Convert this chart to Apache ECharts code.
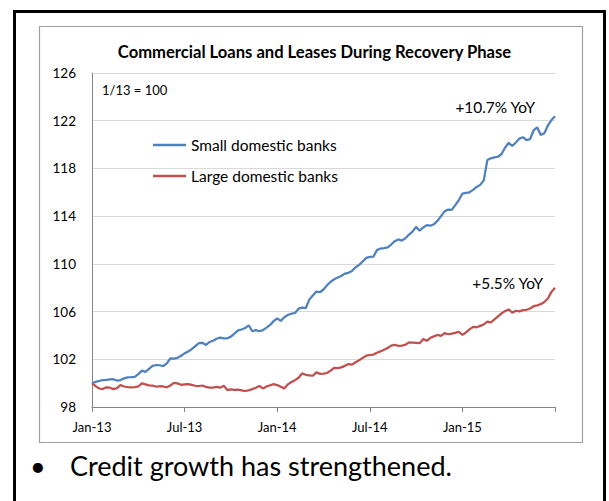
<!DOCTYPE html>
<html>
<head>
<meta charset="utf-8">
<script src="https://cdn.jsdelivr.net/npm/echarts@6/dist/echarts.min.js"></script>
<style>
  html, body { margin: 0; padding: 0; background: #fff; }
  #chart { width: 609px; height: 501px; }
</style>
</head>
<body>
<div id="chart"></div>
<script>
// Weekly index levels, first week of January 2013 = 100
const smallBanks = [
  100.00, 100.10, 100.18, 100.25, 100.28, 100.32, 100.33, 100.22, 100.26, 100.40,
  100.48, 100.50, 100.53, 100.75, 101.05, 100.95, 101.20, 101.45, 101.52, 101.50,
  101.43, 101.65, 102.07, 102.05, 102.12, 102.30, 102.50, 102.65, 102.85, 103.10,
  103.35, 103.38, 103.20, 103.45, 103.55, 103.72, 103.82, 103.76, 103.76, 103.90,
  104.15, 104.42, 104.50, 104.62, 104.85, 104.35, 104.45, 104.35, 104.45, 104.65,
  104.88, 105.20, 105.43, 105.22, 105.52, 105.72, 105.82, 105.88, 106.25, 106.33,
  106.28, 107.00, 107.35, 107.68, 107.62, 107.85, 108.20, 108.50, 108.70, 108.85,
  108.98, 109.18, 109.25, 109.40, 109.72, 109.92, 110.20, 110.50, 110.58, 110.60,
  111.15, 111.28, 111.32, 111.38, 111.62, 111.90, 112.05, 111.95, 112.15, 112.45,
  112.70, 113.10, 112.78, 113.05, 113.25, 113.20, 113.32, 113.60, 114.00, 114.40,
  114.55, 114.52, 114.92, 115.35, 115.88, 115.95, 116.00, 116.20, 116.45, 116.62,
  117.00, 118.70, 118.85, 118.92, 118.98, 119.21, 119.75, 120.15, 119.88, 120.18,
  120.50, 120.62, 120.38, 120.45, 121.20, 121.45, 120.80, 120.95, 121.60, 122.05,
  122.38
];
const largeBanks = [
  100.00, 99.75, 99.55, 99.50, 99.65, 99.62, 99.50, 99.58, 99.84, 99.72,
  99.66, 99.64, 99.67, 99.72, 99.98, 99.90, 99.82, 99.80, 99.70, 99.74,
  99.72, 99.65, 99.80, 100.02, 99.98, 99.86, 99.90, 99.92, 99.85, 99.78,
  99.76, 99.80, 99.68, 99.62, 99.62, 99.68, 99.62, 99.78, 99.42, 99.48,
  99.43, 99.46, 99.40, 99.34, 99.40, 99.50, 99.62, 99.76, 99.56, 99.72,
  99.82, 99.92, 99.84, 99.70, 99.56, 99.90, 100.10, 100.25, 100.45, 100.82,
  100.70, 100.66, 100.62, 100.90, 100.78, 100.80, 100.85, 101.05, 101.28, 101.26,
  101.32, 101.45, 101.60, 101.55, 101.75, 101.92, 102.12, 102.30, 102.36, 102.40,
  102.55, 102.66, 102.80, 102.95, 103.15, 103.22, 103.12, 103.15, 103.22, 103.42,
  103.40, 103.38, 103.35, 103.70, 103.55, 103.80, 103.92, 104.04, 103.96, 104.20,
  104.10, 104.15, 104.22, 104.31, 104.05, 104.25, 104.50, 104.72, 104.68, 104.80,
  104.92, 105.15, 105.10, 105.35, 105.60, 105.85, 106.05, 106.18, 105.90, 106.07,
  106.02, 106.12, 106.15, 106.26, 106.45, 106.52, 106.62, 106.80, 107.10, 107.65,
  108.00
];
const seriesNames = ['Small domestic banks', 'Large domestic banks'];
const xTickLabels = ['Jan-13', 'Jul-13', 'Jan-14', 'Jul-14', 'Jan-15'];
const weeksPerTick = 26;
const yTickValues = [98, 102, 106, 110, 114, 118, 122, 126];

// Weekly category dates (Wednesdays)
const categories = [];
const firstWeek = Date.UTC(2013, 0, 9);
for (let i = 0; i < smallBanks.length; i++) {
  categories.push(new Date(firstWeek + i * 7 * 86400000).toISOString().slice(0, 10));
}

const FONT = 'Lato, "Noto Sans", sans-serif';
const chart = echarts.init(document.getElementById('chart'), null, { renderer: 'svg' });

chart.setOption({
  animation: false,
  backgroundColor: '#ffffff',
  grid: { left: 92, right: 54, top: 73, bottom: 94, outerBoundsMode: 'none' },
  legend: {
    orient: 'vertical',
    left: 153,
    top: 136,
    padding: 0,
    icon: 'rect',
    itemWidth: 33,
    itemHeight: 2.5,
    itemGap: 13,
    data: seriesNames,
    textStyle: { fontFamily: FONT, fontSize: 15.5, color: '#000', lineHeight: 18 }
  },
  xAxis: {
    type: 'category',
    boundaryGap: false,
    data: categories,
    axisLine: { show: true, lineStyle: { color: '#868686', width: 1 } },
    axisTick: { show: true, interval: weeksPerTick - 1, length: 5, lineStyle: { color: '#868686' } },
    axisLabel: {
      interval: weeksPerTick - 1,
      margin: 13,
      color: '#000',
      fontFamily: FONT,
      fontSize: 13,
      formatter: function (value, index) {
        return index % weeksPerTick === 0 ? (xTickLabels[index / weeksPerTick] || '') : '';
      }
    },
    splitLine: { show: false }
  },
  yAxis: {
    type: 'value',
    min: 98,
    max: 126,
    axisLine: { show: true, lineStyle: { color: '#868686', width: 1 } },
    axisTick: { show: false, customValues: yTickValues },
    axisLabel: { customValues: yTickValues, margin: 16, color: '#000', fontFamily: FONT, fontSize: 13.5 },
    splitLine: { show: true, lineStyle: { color: '#d9d9d9', width: 1 } }
  },
  series: [
    {
      name: seriesNames[0],
      type: 'line',
      data: smallBanks,
      symbol: 'none',
      lineStyle: { color: '#4F81BD', width: 2.25 },
      itemStyle: { color: '#4F81BD' },
      z: 3
    },
    {
      name: seriesNames[1],
      type: 'line',
      data: largeBanks,
      symbol: 'none',
      lineStyle: { color: '#C0504D', width: 2.25 },
      itemStyle: { color: '#C0504D' },
      z: 2
    }
  ],
  graphic: [
    { type: 'rect', silent: true, z: -10,
      shape: { x: 14.5, y: 11.5, width: 590, height: 520 },
      style: { fill: 'none', stroke: '#000', lineWidth: 3 } },
    { type: 'rect', silent: true, z: -10,
      shape: { x: 39.5, y: 26.5, width: 543, height: 416 },
      style: { fill: 'none', stroke: '#a0a0a0', lineWidth: 1.2 } },
    { type: 'text', x: 314.5, y: 52,
      style: { text: 'Commercial Loans and Leases During Recovery Phase', fontFamily: FONT,
               fontWeight: 'bold', fontSize: 16.6, fill: '#000', textAlign: 'center', textVerticalAlign: 'middle' } },
    { type: 'text', x: 102, y: 90,
      style: { text: '1/13 = 100', fontFamily: FONT, fontSize: 13, fill: '#000', textVerticalAlign: 'middle' } },
    { type: 'text', x: 535, y: 107,
      style: { text: '+10.7% YoY', fontFamily: FONT, fontSize: 15.4, fill: '#000', textAlign: 'right', textVerticalAlign: 'middle' } },
    { type: 'text', x: 543, y: 283,
      style: { text: '+5.5% YoY', fontFamily: FONT, fontSize: 15.4, fill: '#000', textAlign: 'right', textVerticalAlign: 'middle' } },
    { type: 'text', x: 30, y: 465,
      style: { text: '•', fontFamily: FONT, fontSize: 27, fill: '#000', textVerticalAlign: 'middle' } },
    { type: 'text', x: 70, y: 465,
      style: { text: 'Credit growth has strengthened.', fontFamily: FONT, fontSize: 27, fill: '#000', textVerticalAlign: 'middle' } }
  ]
});
</script>
</body>
</html>
